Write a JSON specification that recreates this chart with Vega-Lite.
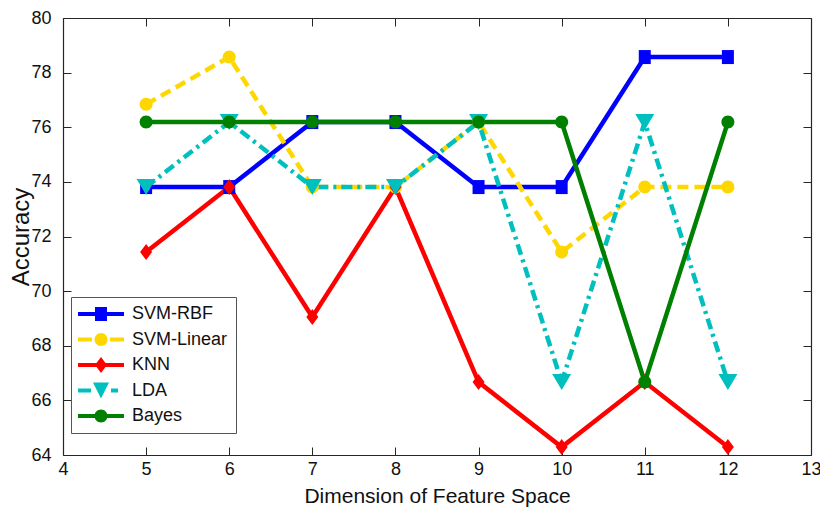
{
  "$schema": "https://vega.github.io/schema/vega-lite/v6.json",
  "width": 748,
  "height": 437,
  "autosize": {"type": "none"},
  "padding": {"left": 63, "top": 18, "right": 9, "bottom": 53},
  "background": "white",
  "config": {
    "view": {"stroke": null},
    "font": "Liberation Sans",
    "axis": {
      "grid": false,
      "domainColor": "#262626",
      "tickColor": "#262626",
      "labelColor": "#111111",
      "titleColor": "#111111",
      "labelFont": "Liberation Sans",
      "titleFont": "Liberation Sans",
      "labelFontSize": 18,
      "titleFontWeight": "normal",
      "tickSize": -8,
      "domainWidth": 1.2
    },
    "legend": {
      "orient": "none",
      "legendX": 8,
      "legendY": 279,
      "fillColor": "white",
      "strokeColor": "#555555",
      "padding": 8,
      "labelFont": "Liberation Sans",
      "labelFontSize": 18,
      "labelColor": "#111111",
      "symbolSize": 4,
      "symbolOpacity": 1,
      "symbolStrokeWidth": 0,
      "symbolOffset": 13,
      "labelOffset": 22,
      "rowPadding": 7.5
    }
  },
  "data": {
    "values": [
      {"dim": 5, "method": "SVM-RBF", "acc": 73.81},
      {"dim": 6, "method": "SVM-RBF", "acc": 73.81},
      {"dim": 7, "method": "SVM-RBF", "acc": 76.19},
      {"dim": 8, "method": "SVM-RBF", "acc": 76.19},
      {"dim": 9, "method": "SVM-RBF", "acc": 73.81},
      {"dim": 10, "method": "SVM-RBF", "acc": 73.81},
      {"dim": 11, "method": "SVM-RBF", "acc": 78.57},
      {"dim": 12, "method": "SVM-RBF", "acc": 78.57},
      {"dim": 5, "method": "SVM-Linear", "acc": 76.84},
      {"dim": 6, "method": "SVM-Linear", "acc": 78.57},
      {"dim": 7, "method": "SVM-Linear", "acc": 73.81},
      {"dim": 8, "method": "SVM-Linear", "acc": 73.81},
      {"dim": 9, "method": "SVM-Linear", "acc": 76.19},
      {"dim": 10, "method": "SVM-Linear", "acc": 71.43},
      {"dim": 11, "method": "SVM-Linear", "acc": 73.81},
      {"dim": 12, "method": "SVM-Linear", "acc": 73.81},
      {"dim": 5, "method": "KNN", "acc": 71.43},
      {"dim": 6, "method": "KNN", "acc": 73.81},
      {"dim": 7, "method": "KNN", "acc": 69.05},
      {"dim": 8, "method": "KNN", "acc": 73.81},
      {"dim": 9, "method": "KNN", "acc": 66.67},
      {"dim": 10, "method": "KNN", "acc": 64.29},
      {"dim": 11, "method": "KNN", "acc": 66.67},
      {"dim": 12, "method": "KNN", "acc": 64.29},
      {"dim": 5, "method": "LDA", "acc": 73.81},
      {"dim": 6, "method": "LDA", "acc": 76.19},
      {"dim": 7, "method": "LDA", "acc": 73.81},
      {"dim": 8, "method": "LDA", "acc": 73.81},
      {"dim": 9, "method": "LDA", "acc": 76.19},
      {"dim": 10, "method": "LDA", "acc": 66.67},
      {"dim": 11, "method": "LDA", "acc": 76.19},
      {"dim": 12, "method": "LDA", "acc": 66.67},
      {"dim": 5, "method": "Bayes", "acc": 76.19},
      {"dim": 6, "method": "Bayes", "acc": 76.19},
      {"dim": 7, "method": "Bayes", "acc": 76.19},
      {"dim": 8, "method": "Bayes", "acc": 76.19},
      {"dim": 9, "method": "Bayes", "acc": 76.19},
      {"dim": 10, "method": "Bayes", "acc": 76.19},
      {"dim": 11, "method": "Bayes", "acc": 66.67},
      {"dim": 12, "method": "Bayes", "acc": 76.19}
    ]
  },
  "encoding": {
    "x": {"field": "dim", "type": "quantitative", "scale": {"domain": [4, 13], "nice": false, "zero": false}, "axis": null},
    "y": {"field": "acc", "type": "quantitative", "scale": {"domain": [64, 80], "nice": false, "zero": false}, "axis": null}
  },
  "layer": [
    {
      "transform": [{"filter": "datum.method === 'SVM-RBF'"}],
      "mark": {"type": "line", "strokeWidth": 4.5, "strokeJoin": "miter", "color": "#0000FF"},
      "encoding": {
        "x": {
          "field": "dim", "type": "quantitative",
          "scale": {"domain": [4, 13], "nice": false, "zero": false},
          "axis": {"orient": "bottom", "values": [4,5,6,7,8,9,10,11,12,13], "title": "Dimension of Feature Space", "titleFontSize": 21, "labelPadding": 13, "titlePadding": 7, "labelFlush": false}
        },
        "y": {
          "field": "acc", "type": "quantitative",
          "scale": {"domain": [64, 80], "nice": false, "zero": false},
          "axis": {"orient": "left", "values": [64,66,68,70,72,74,76,78,80], "title": "Accuracy", "titleFontSize": 24, "labelPadding": 20, "titlePadding": -3}
        }
      }
    },
    {
      "transform": [{"filter": "datum.method === 'SVM-Linear'"}],
      "mark": {"type": "line", "strokeWidth": 4.5, "strokeJoin": "miter", "color": "#FFD700", "strokeDash": [11, 6]}
    },
    {
      "transform": [{"filter": "datum.method === 'KNN'"}],
      "mark": {"type": "line", "strokeWidth": 4.5, "strokeJoin": "miter", "color": "#FF0000"}
    },
    {
      "transform": [{"filter": "datum.method === 'LDA'"}],
      "mark": {"type": "line", "strokeWidth": 4.5, "strokeJoin": "miter", "color": "#00BFBF", "strokeDash": [11, 5, 3, 5]}
    },
    {
      "transform": [{"filter": "datum.method === 'Bayes'"}],
      "mark": {"type": "line", "strokeWidth": 4.5, "strokeJoin": "miter", "color": "#008000"}
    },
    {
      "transform": [{"filter": "datum.method === 'SVM-RBF'"}],
      "mark": {"type": "point", "filled": true, "opacity": 1, "size": 4, "strokeWidth": 0, "color": "#0000FF", "shape": "M-6,-7H6V7H-6Z"},
      "encoding": {
        "x": {
          "field": "dim", "type": "quantitative",
          "scale": {"domain": [4, 13], "nice": false, "zero": false},
          "axis": {"orient": "top", "values": [4,5,6,7,8,9,10,11,12,13], "labels": false, "title": null}
        },
        "y": {
          "field": "acc", "type": "quantitative",
          "scale": {"domain": [64, 80], "nice": false, "zero": false},
          "axis": {"orient": "right", "values": [64,66,68,70,72,74,76,78,80], "labels": false, "title": null}
        }
      }
    },
    {
      "transform": [{"filter": "datum.method === 'SVM-Linear'"}],
      "mark": {"type": "point", "filled": true, "opacity": 1, "size": 4, "strokeWidth": 0, "color": "#FFD700", "shape": "M6.5,0A6.5,6.5 0 1,1 -6.5,0A6.5,6.5 0 1,1 6.5,0Z"}
    },
    {
      "transform": [{"filter": "datum.method === 'KNN'"}],
      "mark": {"type": "point", "filled": true, "opacity": 1, "size": 4, "strokeWidth": 0, "color": "#FF0000", "shape": "M0,-8L6,0L0,8L-6,0Z"}
    },
    {
      "transform": [{"filter": "datum.method === 'LDA'"}],
      "mark": {"type": "point", "filled": true, "opacity": 1, "size": 4, "strokeWidth": 0, "color": "#00BFBF", "shape": "M-9.5,-8H9.5L0,8Z"}
    },
    {
      "transform": [{"filter": "datum.method === 'Bayes'"}],
      "mark": {"type": "point", "filled": true, "opacity": 1, "size": 4, "strokeWidth": 0, "color": "#008000", "shape": "M6.5,0A6.5,6.5 0 1,1 -6.5,0A6.5,6.5 0 1,1 6.5,0Z"}
    },
    {
      "mark": {"type": "point", "filled": true, "opacity": 0, "size": 4, "strokeWidth": 0},
      "encoding": {
        "fill": {
          "field": "method", "type": "nominal",
          "scale": {"domain": ["SVM-RBF", "SVM-Linear", "KNN", "LDA", "Bayes"], "range": ["#0000FF", "#FFD700", "#FF0000", "#00BFBF", "#008000"]},
          "legend": {"title": null}
        },
        "shape": {
          "field": "method", "type": "nominal",
          "scale": {"domain": ["SVM-RBF", "SVM-Linear", "KNN", "LDA", "Bayes"], "range": [
            "M-23,-2H23V2H-23Z M-6,-7H6V7H-6Z",
            "M-23,-2H-9V2H-23Z M9,-2H23V2H9Z M6.5,0A6.5,6.5 0 1,1 -6.5,0A6.5,6.5 0 1,1 6.5,0Z",
            "M-23,-2H23V2H-23Z M0,-8L6,0L0,8L-6,0Z",
            "M-23,-2H-10V2H-23Z M10,-2H17V2H10Z M-8,-8H8L0,8Z",
            "M-23,-2H23V2H-23Z M6.5,0A6.5,6.5 0 1,1 -6.5,0A6.5,6.5 0 1,1 6.5,0Z"
          ]},
          "legend": {"title": null}
        }
      }
    }
  ],
  "resolve": {"axis": {"x": "independent", "y": "independent"}}
}
